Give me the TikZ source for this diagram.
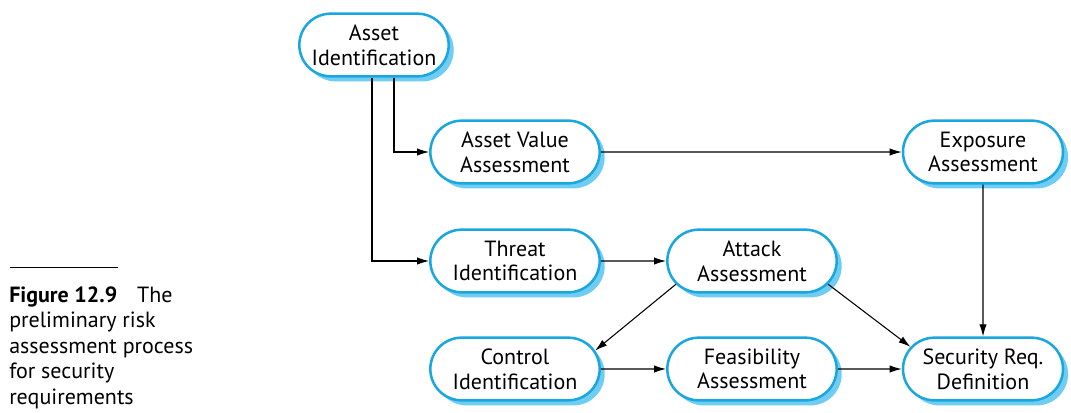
\documentclass[tikz,border=0pt]{standalone}
\usepackage{fontspec}
\setmainfont{PT Sans}
\usetikzlibrary{arrows.meta,shapes.misc,shadows}
\definecolor{bordblue}{HTML}{1AA7E0}
\definecolor{shadblue}{HTML}{6FCDF4}
\tikzset{
  proc/.style={rounded rectangle, draw=bordblue, line width=1.9pt, fill=white,
    align=center, inner sep=0pt, minimum width=127pt, minimum height=47pt,
    font=\fontsize{16.5}{18.5}\selectfont,
    drop shadow={shadow xshift=3.8pt, shadow yshift=-3.8pt, fill=shadblue, opacity=1, draw=none}},
  conn/.style={line width=0.8pt, -{Latex[length=9pt,width=5.5pt]}},
  captext/.style={anchor=base west, inner sep=0pt, font=\fontsize{16.5}{19}\selectfont}
}
\begin{document}
\begin{tikzpicture}[x=0.75pt,y=-0.75pt]
\path[use as bounding box, fill=white] (0,0) rectangle (1071,412);
\node[proc, minimum width=112pt] (ai) at (374,45) {Asset\\Identification};
\node[proc] (ava) at (515,152) {Asset Value\\Assessment};
\node[proc, minimum width=120pt] (ea) at (983,152) {Exposure\\Assessment};
\node[proc] (ti) at (515,261) {Threat\\Identification};
\node[proc] (aa) at (752,261) {Attack\\Assessment};
\node[proc] (ci) at (515,369) {Control\\Identification};
\node[proc] (fa) at (752,369) {Feasibility\\Assessment};
\node[proc, minimum width=120pt] (sr) at (983,369) {Security Req.\\Definition};
\coordinate (a1) at (372,0);
\coordinate (a2) at (394,0);
\draw[conn] (ai.south -| a1) |- (ti.west);
\draw[conn] (ai.south -| a2) |- (ava.west);
\draw[conn] (ava) -- (ea);
\draw[conn] (ea) -- (sr);
\draw[conn] (ti) -- (aa);
\draw[conn] (ci) -- (fa);
\draw[conn] (fa) -- (sr);
\draw[conn] (aa.197) -- (ci.13);
\draw[conn] (aa.343) -- (sr.163);
\coordinate (l1) at (10,267);
\coordinate (l2) at (118,267);
\draw[line width=0.7pt] (l1) -- (l2);
\node[captext] (c1) at (9,302) {\textbf{Figure 12.9}\hspace{0.9em}The};
\node[captext] (c2) at (9,327.5) {preliminary risk};
\node[captext] (c3) at (9,353) {assessment process};
\node[captext] (c4) at (9,378.5) {for security};
\node[captext] (c5) at (9,404) {requirements};
\end{tikzpicture}
\end{document}
